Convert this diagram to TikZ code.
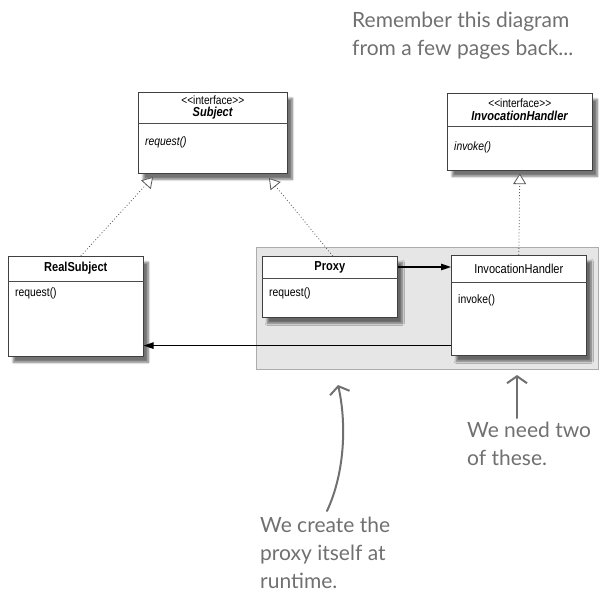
\documentclass[tikz,border=0pt]{standalone}
\usepackage{fontspec}
\setmainfont{Liberation Sans}[FakeStretch=0.85]
\newfontfamily\handfont{Lato}
\usetikzlibrary{arrows.meta,shadows.blur}
\definecolor{noteGray}{RGB}{112,112,112}
\definecolor{zoneFill}{RGB}{230,230,230}
\definecolor{zoneLine}{RGB}{172,172,172}
\newcommand{\ifacetag}{{\fontsize{12}{12.5}\selectfont <\kern0pt<interface>\kern0pt>}}

\begin{document}
\begin{tikzpicture}[
  x=1pt, y=-1pt, font=\fontsize{12.2}{13}\selectfont,
  umlbox/.style={draw=black!75, fill=white, line width=0.6pt, anchor=north west,
                 inner sep=0pt,
                 blur shadow={shadow xshift=5pt, shadow yshift=-6pt,
                              shadow opacity=55, shadow blur steps=7}},
  rule/.style={draw=black!70, line width=0.5pt},
  head/.style={align=center, inner sep=0pt, font=\fontsize{13}{12.5}\selectfont},
  meth/.style={anchor=west, inner sep=0pt},
  zone/.style={draw=zoneLine, fill=zoneFill, line width=0.6pt, anchor=north west,
               inner sep=0pt},
  realize/.style={draw=black!65, line width=0.8pt, dash pattern=on 0.9pt off 2.2pt,
                  -{Triangle[open, length=10.5pt, width=13pt, fill=white, line width=0.8pt]}},
  assoc/.style={draw=black, line width=1.1pt, -{Triangle[length=10pt, width=6.5pt]}},
  note/.style={font=\handfont\fontsize{21}{28}\selectfont, text=noteGray,
               align=left, anchor=north west, inner sep=0pt},
  hand/.style={draw=noteGray, line width=2pt, line cap=round,
               -{Straight Barb[length=7pt, width=20pt, line width=2pt]}},
]
\useasboundingbox (0,0) rectangle (608,596);

% Class box: name, x, y, width, height, header height, header, method, method offset
\newcommand{\umlclass}[9]{%
  \node[umlbox, minimum width=#4pt, minimum height=#5pt] (#1) at (#2,#3) {};
  \draw[rule] ([yshift=-#6pt]#1.north west) -- ([yshift=-#6pt]#1.north east);
  \node[head] (#1-head) at ([yshift={-#6/2}]#1.north) {#7};
  \node[meth] (#1-meth) at ([xshift=7pt, yshift={-#6-#9}]#1.north west) {#8};
}

% ---------------- runtime zone ----------------
\node[zone, minimum width=342pt, minimum height=122pt] (zone) at (256,247) {};

% ---------------- classes ----------------
\umlclass{subj}{138}{92}{149}{81}{31}
  {\ifacetag\\\textbf{\textit{Subject}}}{\textit{request()}}{19}
\umlclass{ihint}{447}{93}{145}{77}{33}
  {\ifacetag\\\textbf{\textit{InvocationHandler}}}{\textit{invoke()}}{21}
\umlclass{realsub}{8}{256}{135}{100}{25}{\textbf{RealSubject}}{request()}{12}
\umlclass{proxy}{262}{256}{135}{61}{22}{\textbf{Proxy}}{request()}{15}
\umlclass{ih}{451}{255}{135}{100}{27}{InvocationHandler}{invoke()}{18}

% ---------------- connectors ----------------
\coordinate (subjL) at (153,177);
\coordinate (subjR) at (269,178);
\draw[realize] ([xshift=5pt]realsub.north) -- (subjL);
\draw[realize] ([xshift=3pt]proxy.north) -- (subjR);
\draw[realize] (ih.north) -- ([yshift=-3pt]ihint.south);
\draw[assoc] (proxy-head -| proxy.east) -- (proxy-head -| ih.west);
\coordinate (ihlow) at ([yshift=10pt]ih.south west);
\draw[assoc] (ihlow) -- (ihlow -| realsub.east);

% ---------------- hand notes ----------------
\node[note] (topnote) at (352,12) {Remember this diagram\\from a few pages back...};
\node[note] (twonote) at (467,422) {We need two\\of these.};
\node[note] (createnote) at (260,517) {We create the\\proxy itself at\\runtime.};

\coordinate (twoTip) at (517,375);
\coordinate (createTip) at (338,385);
\draw[hand] ([xshift=50pt, yshift=4pt]twonote.north west) -- (twoTip);
\draw[hand] ([xshift=67pt, yshift=6pt]createnote.north west)
  .. controls (346,470) and (346,420) .. (createTip);
\end{tikzpicture}
\end{document}
